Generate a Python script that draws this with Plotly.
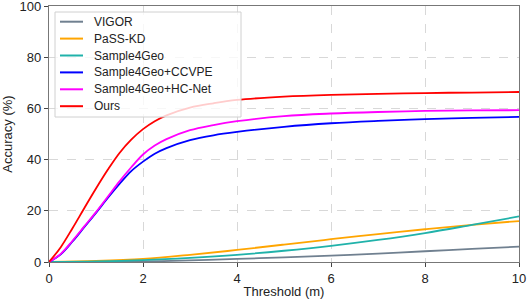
import plotly.graph_objects as go

x_pts = [0, 0.25, 0.5, 0.75, 1, 1.25, 1.5, 1.75, 2, 2.25, 2.5, 3, 3.5, 4, 5, 6, 7, 8, 9, 10]
x_lin = [0, 1, 2, 3, 4, 5, 6, 7, 8, 9, 10]

vigor = [0, 0.05, 0.2, 0.6, 1.2, 1.8, 2.5, 3.3, 4.2, 5.1, 6.0]
pass_kd = [0, 0.4, 1.2, 2.8, 4.7, 6.8, 8.9, 10.9, 12.8, 14.5, 16.0]
sample4geo = [0, 0.2, 0.7, 1.6, 2.8, 4.4, 6.3, 8.6, 11.3, 14.5, 17.8]
ccvpe = [0, 3.0, 8.0, 13.6, 19.2, 25, 30.5, 35.5, 39.2, 42.3, 44.5, 47.6, 49.5, 50.8, 52.8, 54.2, 55.1, 55.8, 56.3, 56.7]
hcnet = [0, 3.2, 8.3, 13.9, 19.5, 25.5, 31.5, 37, 42, 45.5, 48, 51.5, 53.5, 55, 57, 58, 58.6, 59, 59.2, 59.3]
ours = [0, 5.8, 13.2, 21.0, 28.7, 36, 42.6, 47.8, 51.9, 55, 57.3, 60.3, 62, 63.3, 64.6, 65.3, 65.7, 66, 66.2, 66.4]

names = ["VIGOR", "PaSS-KD", "Sample4Geo", "Sample4Geo+CCVPE", "Sample4Geo+HC-Net", "Ours"]
colors = ["#708090", "#FFA500", "#20B2AA", "#0000FF", "#FF00FF", "#FF0000"]
xs = [x_lin, x_lin, x_lin, x_pts, x_pts, x_pts]
ys = [vigor, pass_kd, sample4geo, ccvpe, hcnet, ours]

x_ticks = [0, 2, 4, 6, 8, 10]
y_ticks = [0, 20, 40, 60, 80, 100]

W, H = 530, 299
ML, MR, MT, MB = 49, 11, 6, 37
PX0, PX1 = ML, W - MR
PY0, PY1 = MT, H - MB


def pu(px):
    return (px - PX0) / (PX1 - PX0)


def pv(py):
    return (PY1 - py) / (PY1 - PY0)


fig = go.Figure()
for n, c, xv, yv in zip(names, colors, xs, ys):
    fig.add_trace(go.Scatter(x=xv, y=yv, name=n, mode="lines", showlegend=False,
                             line=dict(color=c, width=1.8, shape="spline", smoothing=1.0)))

font = "Liberation Sans, Arial, sans-serif"

# custom legend (semi-transparent box over the lines)
shapes = [dict(type="rect", xref="paper", yref="paper", layer="above",
               x0=pu(55), x1=pu(241), y0=pv(117), y1=pv(12),
               fillcolor="rgba(255,255,255,0.8)", line=dict(color="#d0d0d0", width=1))]
annotations = []
leg_y = [21.7, 38.6, 55.5, 72.4, 89.3, 106.2]
for n, c, ly in zip(names, colors, leg_y):
    shapes.append(dict(type="line", xref="paper", yref="paper", layer="above",
                       x0=pu(60), x1=pu(83), y0=pv(ly), y1=pv(ly),
                       line=dict(color=c, width=2)))
    annotations.append(dict(xref="paper", yref="paper", x=pu(92), y=pv(ly),
                            xanchor="left", yanchor="middle", showarrow=False, text=n,
                            font=dict(family=font, size=12, color="#222")))

axis_common = dict(showgrid=True, gridcolor="#d8d8d8", griddash="dash", gridwidth=1,
                   zeroline=False, showline=True, mirror=True, linecolor="#777",
                   linewidth=1.2, ticks="outside", ticklen=4, tickcolor="#444",
                   automargin=False, tickfont=dict(size=13), ticklabeloverflow="allow")

fig.update_layout(
    width=W, height=H,
    margin=dict(l=ML, r=MR, t=MT, b=MB),
    paper_bgcolor="white", plot_bgcolor="white",
    font=dict(family=font, size=13, color="#222"),
    showlegend=False,
    shapes=shapes, annotations=annotations,
    xaxis=dict(range=[0, 10], tickvals=x_ticks,
               title=dict(text="Threshold (m)", standoff=2, font=dict(size=13)), **axis_common),
    yaxis=dict(range=[0, 100], tickvals=y_ticks,
               title=dict(text="Accuracy (%)", standoff=8, font=dict(size=13)), **axis_common),
)
fig.write_html("out.html", config={"displayModeBar": False},
               post_script="document.body.style.margin='0';")
